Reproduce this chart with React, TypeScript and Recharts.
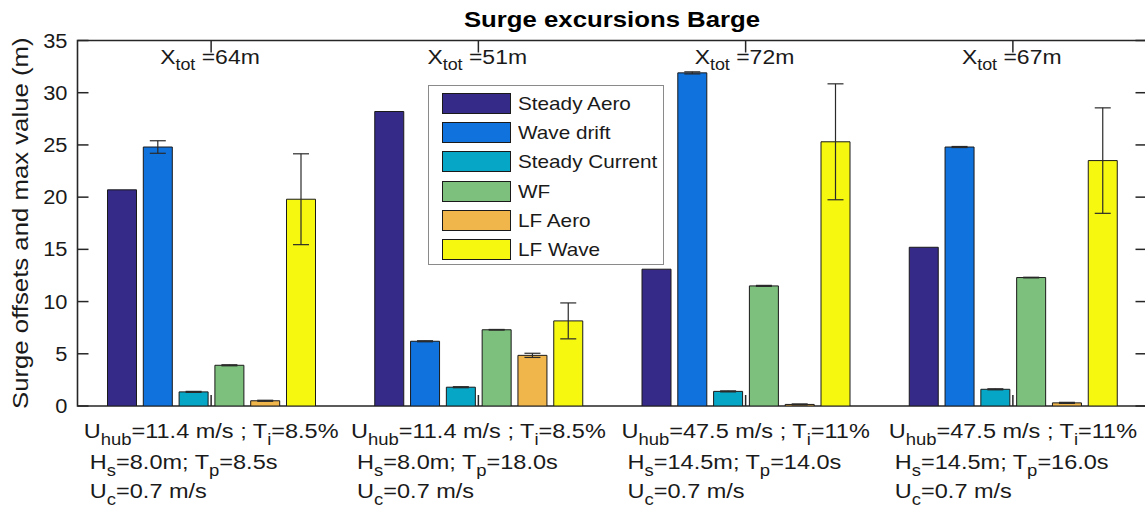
import React, { useLayoutEffect, useRef, useState } from 'react';
import { BarChart, Bar, XAxis, YAxis, ErrorBar, Legend, ReferenceArea } from 'recharts';

// Load cases (one group of bars per case)
const caseIds = ['case1', 'case2', 'case3', 'case4'];
const hubWind = ['11.4', '11.4', '47.5', '47.5'];
const turbulence = ['8.5%', '8.5%', '11%', '11%'];
const waveHeight = ['8.0m', '8.0m', '14.5m', '14.5m'];
const peakPeriod = ['8.5s', '18.0s', '14.0s', '16.0s'];
const currentSpeed = ['0.7', '0.7', '0.7', '0.7'];
const totalExcursion = ['64m', '51m', '72m', '67m'];

// Surge contributions (m) and their spread
const steadyAero = [20.7, 28.2, 13.1, 15.2];
const waveDrift = [24.8, 6.2, 31.9, 24.8];
const waveDriftErr = [0.6, 0.05, 0.1, 0.05];
const steadyCurrent = [1.35, 1.8, 1.4, 1.6];
const steadyCurrentErr = [0.05, 0.05, 0.05, 0.05];
const wfMotion = [3.9, 7.3, 11.5, 12.3];
const wfMotionErr = [0.05, 0.03, 0.05, 0.03];
const lfAero = [0.5, 4.85, 0.15, 0.3];
const lfAeroErr = [0.05, 0.2, 0.05, 0.05];
const lfWave = [19.8, 8.15, 25.3, 23.5];
const lfWaveErr = [4.35, 1.72, 5.55, 5.05];

const yTicks = [0, 5, 10, 15, 20, 25, 30, 35];

const series = [
  { key: 'steadyAero', name: 'Steady Aero', color: '#352A87', values: steadyAero, errors: null as number[] | null },
  { key: 'waveDrift', name: 'Wave drift', color: '#0F72DD', values: waveDrift, errors: waveDriftErr },
  { key: 'steadyCurrent', name: 'Steady Current', color: '#06A7C6', values: steadyCurrent, errors: steadyCurrentErr },
  { key: 'wf', name: 'WF', color: '#7DBF7C', values: wfMotion, errors: wfMotionErr },
  { key: 'lfAero', name: 'LF Aero', color: '#F0B54B', values: lfAero, errors: lfAeroErr },
  { key: 'lfWave', name: 'LF Wave', color: '#F6F80F', values: lfWave, errors: lfWaveErr },
];

const data = caseIds.map((id, i) => {
  const row: Record<string, any> = { id };
  series.forEach((s) => {
    row[s.key] = s.values[i];
    if (s.errors) row[s.key + 'Err'] = s.errors[i];
  });
  return row;
});

// Layout
const CHART_W = 1160;
const CHART_H = 510;
const PLOT_LEFT = 77.5;
const PLOT_RIGHT = 1146.5;
const PLOT_TOP = 40.5;
const PLOT_BOTTOM = 406;
const PLOT_W = PLOT_RIGHT - PLOT_LEFT;
const PLOT_H = PLOT_BOTTOM - PLOT_TOP;
const TICK = 11;
const SX = 1.12; // horizontal glyph stretch of the figure font
const FONT = "'Liberation Sans', Arial, Helvetica, sans-serif";
const AXIS = '#262626';
const TEXT = '#1a1a1a';

function CaseTick(props: any) {
  const { x, y, payload } = props;
  const i = Math.max(0, caseIds.indexOf(payload?.value));
  const ref = useRef<SVGTextElement>(null);
  const [w, setW] = useState(225);
  useLayoutEffect(() => {
    if (ref.current) {
      const len = ref.current.getComputedTextLength();
      if (Math.abs(len - w) > 0.5) setW(len);
    }
  });
  const topY = y - PLOT_H;
  const left = x - (w * SX) / 2;
  const sub = 16.5;
  const drop = 7;
  return (
    <g fontFamily={FONT} fill={TEXT}>
      <line x1={x} x2={x} y1={y} y2={y - TICK} stroke={AXIS} strokeWidth={1.5} />
      <line x1={x} x2={x} y1={topY} y2={topY + TICK + 1} stroke={AXIS} strokeWidth={1.5} />
      <g transform={`translate(${x - 51},${topY + 23}) scale(${SX},1)`}>
        <text x={0} y={0} fontSize={20.5}>
          X
          <tspan fontSize={16} dy={6.5}>tot</tspan>
          <tspan dy={-6.5}>{' =' + totalExcursion[i]}</tspan>
        </text>
      </g>
      <g transform={`translate(${left},0) scale(${SX},1)`} fontSize={21}>
        <text ref={ref} x={0} y={y + 32}>
          U
          <tspan fontSize={sub} dy={drop}>hub</tspan>
          <tspan dy={-drop}>{`=${hubWind[i]} m/s ; T`}</tspan>
          <tspan fontSize={sub} dy={drop}>i</tspan>
          <tspan dy={-drop}>{`=${turbulence[i]}`}</tspan>
        </text>
        <text x={5.5} y={y + 63}>
          H
          <tspan fontSize={sub} dy={drop}>s</tspan>
          <tspan dy={-drop}>{`=${waveHeight[i]}; T`}</tspan>
          <tspan fontSize={sub} dy={drop}>p</tspan>
          <tspan dy={-drop}>{`=${peakPeriod[i]}`}</tspan>
        </text>
        <text x={5.5} y={y + 92}>
          U
          <tspan fontSize={sub} dy={drop}>c</tspan>
          <tspan dy={-drop}>{`=${currentSpeed[i]} m/s`}</tspan>
        </text>
      </g>
    </g>
  );
}

function ValueTick(props: any) {
  const { x, y, payload } = props;
  return (
    <g fontFamily={FONT} fill={TEXT}>
      <line x1={x} x2={x + TICK} y1={y} y2={y} stroke={AXIS} strokeWidth={1.5} />
      <line x1={x + PLOT_W} x2={x + PLOT_W - TICK} y1={y} y2={y} stroke={AXIS} strokeWidth={1.5} />
      <g transform={`translate(${x - 10},${y + 7}) scale(${SX},1)`}>
        <text x={0} y={0} textAnchor="end" fontSize={19.5}>
          {payload.value}
        </text>
      </g>
    </g>
  );
}

function LegendBox(props: any) {
  const items: any[] = props.payload || [];
  // keep the series order rather than the alphabetical payload order
  const ordered = series.filter((s) => items.length === 0 || items.some((it) => it.value === s.name));
  return (
    <div
      style={{
        position: 'relative',
        width: 236,
        height: 180,
        border: '1px solid #8a8a8a',
        boxSizing: 'border-box',
        background: '#fff',
        fontFamily: FONT,
        color: TEXT,
      }}
    >
      {ordered.map((s, k) => {
        const top = 6.5 + k * 29.35;
        return (
          <React.Fragment key={s.key}>
            <div
              style={{
                position: 'absolute',
                left: 13,
                top,
                width: 69,
                height: 21,
                background: s.color,
                border: '1px solid #1a1a1a',
                boxSizing: 'border-box',
              }}
            />
            <div
              style={{
                position: 'absolute',
                left: 88.5,
                top,
                height: 21,
                lineHeight: '21px',
                fontSize: 18.5,
                whiteSpace: 'nowrap',
                transform: `scaleX(${SX})`,
                transformOrigin: 'left center',
              }}
            >
              {s.name}
            </div>
          </React.Fragment>
        );
      })}
    </div>
  );
}

export default function App() {
  return (
    <div
      style={{
        position: 'fixed',
        left: 0,
        top: 0,
        width: 1145,
        height: 510,
        overflow: 'hidden',
        background: '#fff',
      }}
    >
      <BarChart
        width={CHART_W}
        height={CHART_H}
        data={data}
        margin={{ top: PLOT_TOP, right: CHART_W - PLOT_RIGHT, bottom: 0, left: 0 }}
        barSize={29}
        barGap={6.8}
      >
        <XAxis
          dataKey="id"
          height={CHART_H - PLOT_BOTTOM}
          axisLine={false}
          tickLine={false}
          tickSize={0}
          tickMargin={0}
          interval={0}
          tick={<CaseTick />}
        />
        <YAxis
          width={PLOT_LEFT}
          domain={[0, 35]}
          ticks={yTicks}
          allowDataOverflow
          axisLine={false}
          tickLine={false}
          tickSize={0}
          tickMargin={0}
          tick={<ValueTick />}
        />
        <Legend
          layout="vertical"
          align="center"
          verticalAlign="middle"
          itemSorter={null as any}
          wrapperStyle={{ left: 428, top: 85, width: 236, height: 180 }}
          content={<LegendBox />}
        />
        {series.map((s) => (
          <Bar
            key={s.key}
            dataKey={s.key}
            name={s.name}
            fill={s.color}
            stroke="#1a1a1a"
            strokeWidth={1}
            isAnimationActive={false}
          >
            {s.errors ? (
              <ErrorBar dataKey={s.key + 'Err'} width={8} stroke="#2a2a2a" strokeWidth={1.2} direction="y" />
            ) : null}
          </Bar>
        ))}
        <ReferenceArea y1={0} y2={35} fill="none" stroke={AXIS} strokeWidth={1.6} ifOverflow="visible" />
      </BarChart>
      <svg
        width={1145}
        height={510}
        style={{ position: 'absolute', left: 0, top: 0, pointerEvents: 'none' }}
        fontFamily={FONT}
      >
        <text
          transform={`translate(${(PLOT_LEFT + PLOT_RIGHT) / 2},26.5) scale(${SX},1)`}
          textAnchor="middle"
          fontSize={23}
          fontWeight="bold"
          fill="#000"
        >
          Surge excursions Barge
        </text>
        <text
          transform={`translate(28,${(PLOT_TOP + PLOT_BOTTOM) / 2}) rotate(-90) scale(${SX},1)`}
          textAnchor="middle"
          fontSize={23}
          fill={TEXT}
        >
          Surge offsets and max value (m)
        </text>
      </svg>
    </div>
  );
}
